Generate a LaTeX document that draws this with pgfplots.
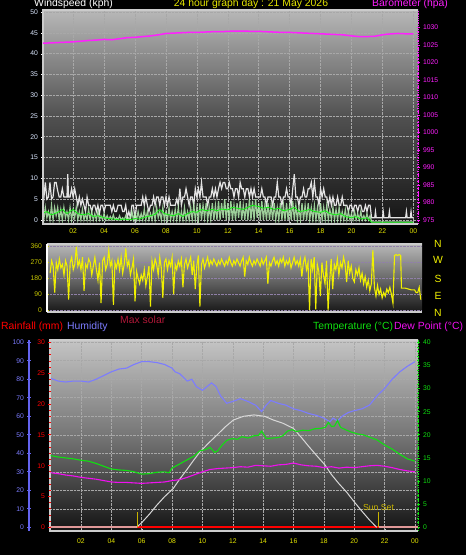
\documentclass[border=0pt]{standalone}
\usepackage{fontspec}
\setmainfont{Liberation Sans}
\usepackage{pgfplots}
\pgfplotsset{compat=1.18}
\definecolor{windlbl}{HTML}{DCE8FF}
\definecolor{framec}{HTML}{CCCCCC}
\definecolor{gust}{HTML}{E4E4E4}
\definecolor{palegreen}{HTML}{B4EEB0}
\definecolor{avggreen}{HTML}{10F010}
\definecolor{baro}{HTML}{FF20FF}
\definecolor{dirc}{HTML}{F0F000}
\definecolor{olivec}{HTML}{C8C800}
\definecolor{hum}{HTML}{7C7CFF}
\definecolor{humax}{HTML}{6464F0}
\definecolor{tempc}{HTML}{10E010}
\definecolor{dew}{HTML}{F010F0}
\definecolor{solar}{HTML}{D8D8D8}
\definecolor{rainc}{HTML}{FF0000}
\definecolor{rainlight}{HTML}{E09898}
\definecolor{sunline}{HTML}{C8B400}
\definecolor{maxsolar}{HTML}{B01838}
\definecolor{tickyellow}{HTML}{E6E600}
\definecolor{bgat}{HTML}{B8B8B8}
\definecolor{bgam}{HTML}{505050}
\definecolor{bgab}{HTML}{141414}
\definecolor{bgbt}{HTML}{B8B8B8}
\definecolor{bgbm}{HTML}{6A6A6A}
\definecolor{bgbb}{HTML}{181818}
\definecolor{bgct}{HTML}{C4C4C4}
\definecolor{bgcm}{HTML}{767676}
\definecolor{bgcb}{HTML}{141414}
\definecolor{gridc}{HTML}{A8A8A8}
\definecolor{dirgrid}{HTML}{9080A8}
\newcommand{\tickfont}{\fontsize{6.8}{8}\selectfont}
\newcommand{\labfont}{\fontsize{10.4}{12}\selectfont}
\pgfplotsset{
  base/.style={scale only axis, anchor=south west,
    tick align=outside, major tick length=3pt, minor tick length=2pt,
    /pgf/number format/assume math mode=true,
    /pgf/number format/1000 sep={},
    ticklabel style={font=\tickfont},
  },
}
\begin{document}
\begin{tikzpicture}
\useasboundingbox (0,0) rectangle (466pt,555pt);
\fill[black] (0,0) rectangle (466pt,555pt);
% ---------- titles ----------
\node[anchor=west, inner sep=0, white, font=\labfont] at (34pt,551pt) {Windspeed (kph)};
\node[anchor=center, inner sep=0, tickyellow, font=\labfont] at (251pt,551pt) {24 hour graph day : 21 May 2026};
\node[anchor=west, inner sep=0, baro, font=\labfont] at (372pt,551pt) {Barometer (hpa)};
% ---------- panel 1: wind ----------
\begin{axis}[base, at={(43pt,331pt)}, width=375pt, height=214pt,
  xmin=0.05, xmax=24.3, ymin=-1, ymax=50.5,
  axis background/.style={top color=bgat, bottom color=bgab, middle color=bgam},
  axis x line=bottom, axis y line=left, axis line style={draw=none},
  xtick={2,4,...,24}, xticklabels={02,04,06,08,10,12,14,16,18,20,22,00},
  xticklabel style={color=tickyellow}, minor x tick num=2,
  xtick style={color=framec},
  ytick={0,5,...,50}, minor y tick num=4,
  yticklabel style={color=windlbl}, ytick style={color=white},
  grid=major, grid style={densely dotted, gridc, line width=0.5pt},
  after end axis/.code={
    \draw[framec, line width=1.5pt] (rel axis cs:1,1) -- (rel axis cs:0,1) -- (rel axis cs:0,0) -- (rel axis cs:1,0);
  },
]
\addplot[gust, line width=1.2pt] table[row sep=\\] {x y\\
0.0 7.5\\ 0.1 5\\ 0.2 9\\ 0.3 5\\ 0.4 5.5\\ 0.5 9\\ 0.6 5\\ 0.7 5.5\\ 0.8 9\\ 0.9 9\\ 1.0 7\\ 1.1 5.5\\ 1.2 5.5\\ 1.3 7.5\\ 1.4 5.5\\ 1.5 5.5\\ 1.6 5.5\\ 1.65 11\\ 1.7 5.5\\ 1.8 5.5\\ 1.9 7.5\\ 2.0 5.5\\ 2.1 7.5\\ 2.2 5.5\\ 2.3 3.5\\ 2.4 5.5\\ 2.5 3.5\\ 2.6 5\\ 2.7 3.5\\ 2.8 2\\ 2.9 5.5\\ 3.0 3.5\\ 3.1 3.5\\ 3.2 2\\ 3.3 3.5\\ 3.4 3.5\\ 3.5 2\\ 3.6 3.5\\ 3.7 1.5\\ 3.8 3.5\\ 3.9 3.5\\ 4.0 2\\ 4.1 3.5\\ 4.2 3.5\\ 4.3 3.5\\ 4.4 3.5\\ 4.5 2\\ 4.6 3.5\\ 4.7 2\\ 4.8 2\\ 4.9 3.5\\ 5.0 3.5\\ 5.1 3.5\\ 5.2 2\\ 5.3 2\\ 5.4 3.5\\ 5.5 0.5\\ 5.6 2\\ 5.7 0.5\\ 5.8 3.5\\ 5.9 3.5\\ 6.0 0\\ 6.1 3.5\\ 6.2 3.5\\ 6.3 3.5\\ 6.4 3.5\\ 6.5 5.5\\ 6.6 3.5\\ 6.7 5.5\\ 6.8 3.5\\ 6.9 2\\ 7.0 3.5\\ 7.1 3.5\\ 7.2 5.5\\ 7.3 3.5\\ 7.4 5.5\\ 7.5 5.5\\ 7.6 3.5\\ 7.7 5.5\\ 7.8 5.5\\ 7.9 3.5\\ 8.0 5.5\\ 8.1 3.5\\ 8.2 5.5\\ 8.3 3.5\\ 8.4 3.5\\ 8.5 3.5\\ 8.6 3.5\\ 8.7 5\\ 8.8 3.5\\ 8.9 7.5\\ 9.0 3.5\\ 9.1 5.5\\ 9.2 5.5\\ 9.3 7.5\\ 9.4 5.5\\ 9.5 3.5\\ 9.6 5.5\\ 9.7 5.5\\ 9.8 3.5\\ 9.9 7.5\\ 10.0 5.5\\ 10.1 7.5\\ 10.2 5.5\\ 10.3 9\\ 10.4 5.5\\ 10.5 5.5\\ 10.6 5.5\\ 10.7 3.5\\ 10.8 5.5\\ 10.9 5.5\\ 11.0 7.5\\ 11.1 5.5\\ 11.2 7.5\\ 11.3 5.5\\ 11.4 7.5\\ 11.5 9\\ 11.6 7.5\\ 11.7 9\\ 11.8 9\\ 11.9 7.5\\ 12.0 7.5\\ 12.1 9\\ 12.2 7.5\\ 12.3 7.5\\ 12.4 5.5\\ 12.5 7.5\\ 12.6 7.5\\ 12.7 5.5\\ 12.8 9\\ 12.9 7.5\\ 13.0 7.5\\ 13.1 5.5\\ 13.2 7.5\\ 13.3 7.5\\ 13.4 5.5\\ 13.5 7.5\\ 13.6 5.5\\ 13.7 7.5\\ 13.8 5.5\\ 13.9 5.5\\ 14.0 5.5\\ 14.1 5.5\\ 14.2 7.5\\ 14.3 5.5\\ 14.4 5.5\\ 14.5 3.5\\ 14.6 5.5\\ 14.7 5.5\\ 14.8 5.5\\ 14.9 3.5\\ 15.0 5.5\\ 15.1 5.5\\ 15.2 9\\ 15.3 5.5\\ 15.4 5.5\\ 15.5 3.5\\ 15.6 5.5\\ 15.7 5.5\\ 15.8 7.5\\ 15.9 5.5\\ 16.0 5.5\\ 16.1 3.5\\ 16.2 7.5\\ 16.3 11\\ 16.4 5.5\\ 16.5 5.5\\ 16.6 3.5\\ 16.7 5.5\\ 16.8 5.5\\ 16.9 7.5\\ 17.0 5.5\\ 17.1 5.5\\ 17.2 7.5\\ 17.3 7.5\\ 17.4 9\\ 17.5 5.5\\ 17.6 9\\ 17.7 5.5\\ 17.8 5.5\\ 17.9 3.5\\ 18.0 7.5\\ 18.1 5.5\\ 18.2 7.5\\ 18.3 5.5\\ 18.4 5.5\\ 18.5 3.5\\ 18.6 5.5\\ 18.7 3.5\\ 18.8 5.5\\ 18.9 3.5\\ 19.0 3.5\\ 19.1 5.5\\ 19.2 3.5\\ 19.3 3.5\\ 19.4 5.5\\ 19.5 3.5\\ 19.6 3.5\\ 19.7 3.5\\ 19.8 2\\ 19.9 3.5\\ 20.0 3.5\\ 20.1 2\\ 20.2 3.5\\ 20.3 3.5\\ 20.4 2\\ 20.5 3.5\\ 20.6 3.5\\ 20.7 2\\ 20.8 2\\ 20.9 3.5\\ 21.0 2\\ 21.1 3.5\\ 21.2 3.5\\ 21.3 0.5\\ 21.5 0.5\\ 21.55 2\\ 21.6 0.5\\ 22.0 0.5\\ 22.05 2\\ 22.1 0.5\\ 22.4 0.5\\ 22.45 2\\ 22.5 0.5\\ 23.5 0.5\\ 23.55 2\\ 23.6 0.5\\ 23.8 0.5\\ 23.85 2\\ 23.9 0.5\\ 24.0 0.5\\
};
\addplot[palegreen, line width=1.2pt, opacity=0.85] table[row sep=\\] {x y\\
0.0 3\\ 0.1 0\\ 0.2 3\\ 0.3 0.5\\ 0.4 2\\ 0.5 0\\ 0.6 3.5\\ 0.7 0\\ 0.8 3\\ 0.9 1\\ 1.0 3\\ 1.1 0\\ 1.2 2.5\\ 1.3 0\\ 1.4 3\\ 1.5 0.5\\ 1.6 2\\ 1.7 0\\ 1.8 3\\ 1.9 0\\ 2.0 2.5\\ 2.1 0.5\\ 2.2 3\\ 2.3 0\\ 2.4 2\\ 2.5 0\\ 2.6 2.5\\ 2.7 0\\ 2.8 1.5\\ 2.9 0\\ 3.0 2.5\\ 3.1 0\\ 3.2 2\\ 3.3 0\\ 3.4 1.5\\ 3.5 0\\ 3.6 2\\ 3.7 0\\ 3.8 1\\ 3.9 0\\ 4.0 1.5\\ 4.1 0\\ 4.2 1\\ 4.3 0\\ 4.4 0.8\\ 4.5 0\\ 4.6 1.2\\ 4.7 0\\ 4.8 0.5\\ 4.9 0\\ 5.0 1\\ 5.1 0\\ 5.2 0.5\\ 5.3 0\\ 5.4 1\\ 5.5 0\\ 5.6 0.5\\ 5.7 0\\ 5.8 2\\ 5.9 0\\ 6.0 1.5\\ 6.1 0\\ 6.2 2\\ 6.3 0\\ 6.4 1.5\\ 6.5 0\\ 6.6 2.5\\ 6.7 0\\ 6.8 2\\ 6.9 0\\ 7.0 1.5\\ 7.1 0\\ 7.2 2.5\\ 7.3 0\\ 7.4 3\\ 7.5 0.5\\ 7.6 2\\ 7.7 0\\ 7.8 3\\ 7.9 0\\ 8.0 2\\ 8.1 0\\ 8.2 3\\ 8.3 0\\ 8.4 2\\ 8.5 0\\ 8.6 2.5\\ 8.7 0\\ 8.8 3\\ 8.9 0\\ 9.0 2\\ 9.1 0\\ 9.2 3\\ 9.3 0\\ 9.4 2\\ 9.5 0\\ 9.6 3\\ 9.7 0\\ 9.8 3.5\\ 9.9 0\\ 10.0 3\\ 10.1 0\\ 10.2 4\\ 10.3 0\\ 10.4 3.5\\ 10.5 0.5\\ 10.6 4\\ 10.7 0\\ 10.8 3\\ 10.9 0\\ 11.0 4\\ 11.1 0\\ 11.2 3.5\\ 11.3 0\\ 11.4 4.5\\ 11.5 0\\ 11.6 4\\ 11.7 0.5\\ 11.8 5\\ 11.9 0\\ 12.0 4\\ 12.1 0\\ 12.2 4.5\\ 12.3 0\\ 12.4 3.5\\ 12.5 0\\ 12.6 4\\ 12.7 0.5\\ 12.8 4.5\\ 12.9 0\\ 13.0 3.5\\ 13.1 0\\ 13.2 4\\ 13.3 0\\ 13.4 5\\ 13.5 0\\ 13.6 4.5\\ 13.7 0\\ 13.8 5\\ 13.9 0.5\\ 14.0 4\\ 14.1 0\\ 14.2 4.5\\ 14.3 0\\ 14.4 3.5\\ 14.5 0\\ 14.6 4\\ 14.7 0\\ 14.8 3.5\\ 14.9 0\\ 15.0 4\\ 15.1 0\\ 15.2 3\\ 15.3 0\\ 15.4 4\\ 15.5 0\\ 15.6 3.5\\ 15.7 0\\ 15.8 4\\ 15.9 0\\ 16.0 3.5\\ 16.1 0\\ 16.2 4.5\\ 16.3 0\\ 16.4 3.5\\ 16.5 0\\ 16.6 3\\ 16.7 0\\ 16.8 4\\ 16.9 0\\ 17.0 3.5\\ 17.1 0\\ 17.2 4\\ 17.3 0\\ 17.4 3\\ 17.5 0\\ 17.6 3.5\\ 17.7 0\\ 17.8 3\\ 17.9 0\\ 18.0 4\\ 18.1 0\\ 18.2 3\\ 18.3 0\\ 18.4 3.5\\ 18.5 0\\ 18.6 2.5\\ 18.7 0\\ 18.8 3\\ 18.9 0\\ 19.0 2.5\\ 19.1 0\\ 19.2 3\\ 19.3 0\\ 19.4 2\\ 19.5 0\\ 19.6 2.5\\ 19.7 0\\ 19.8 2\\ 19.9 0\\ 20.0 1.5\\ 20.1 0\\ 20.2 2\\ 20.3 0\\ 20.4 1.5\\ 20.5 0\\ 20.6 2\\ 20.7 0\\ 20.8 1\\ 20.9 0\\ 21.0 1.5\\ 21.1 0\\ 21.2 1\\ 21.3 -0.5\\ 24.0 -0.5\\
};
\addplot[avggreen, line width=0.8pt] table[row sep=\\] {x y\\
0 1.5\\ 0.3 2\\ 0.6 1.2\\ 1.0 1.8\\ 1.3 2.5\\ 1.6 1.5\\ 2.0 2.5\\ 2.3 1.5\\ 2.6 1.2\\ 3.0 1.5\\ 3.3 0.8\\ 3.6 1\\ 4.0 0.5\\ 4.3 0.3\\ 4.6 0.2\\ 5.0 0\\ 5.3 0.2\\ 5.6 0\\ 6.0 0.3\\ 6.3 0.2\\ 6.6 0.6\\ 7.0 1.0\\ 7.3 1.3\\ 7.6 2.5\\ 7.9 1.5\\ 8.2 1.2\\ 8.5 1\\ 8.8 1.5\\ 9.1 0.8\\ 9.4 1.5\\ 9.7 2\\ 10.0 1.8\\ 10.3 2.5\\ 10.6 2.2\\ 11.0 2.5\\ 11.3 2.2\\ 11.6 2.6\\ 12.0 2.4\\ 12.3 3\\ 12.6 2.8\\ 13.0 2.5\\ 13.3 3\\ 13.6 3.5\\ 14.0 3.2\\ 14.3 2.8\\ 14.6 3\\ 15.0 2.5\\ 15.3 2.8\\ 15.6 2.2\\ 16.0 2.5\\ 16.3 3\\ 16.6 2\\ 17.0 2.2\\ 17.3 2.5\\ 17.6 2\\ 18.0 1.8\\ 18.3 2.2\\ 18.6 1.5\\ 19.0 1.2\\ 19.3 1.5\\ 19.6 0.8\\ 20.0 0.5\\ 20.3 0.8\\ 20.6 0.2\\ 21.0 0.5\\ 21.3 -0.6\\ 24.0 -0.6\\
};
\end{axis}
\begin{axis}[base, at={(43pt,331pt)}, width=375pt, height=214pt,
  xmin=0.05, xmax=24.3, ymin=973.9, ymax=1035,
  axis x line=none, axis y line=right,
  axis line style={-, baro, densely dotted, line width=0.8pt},
  ytick={975,980,...,1030}, minor y tick num=4,
  yticklabel style={color=baro}, ytick style={color=baro, line width=0.8pt},
]
\addplot[baro, line width=1.5pt] table[row sep=\\] {x y\\
0 1025.5\\ 0.5 1025.6\\ 1 1025.7\\ 1.5 1025.8\\ 2 1025.9\\ 2.5 1026.1\\ 3 1026.3\\ 3.5 1026.4\\ 4 1026.6\\ 4.5 1026.5\\ 5 1026.8\\ 5.5 1027.1\\ 6 1027.2\\ 6.5 1027.4\\ 7 1027.6\\ 7.5 1027.9\\ 8 1028.3\\ 8.5 1028.4\\ 9 1028.5\\ 9.5 1028.6\\ 10 1028.6\\ 10.5 1028.7\\ 11 1028.8\\ 11.5 1028.8\\ 12 1028.9\\ 12.5 1029.0\\ 13 1029.0\\ 13.5 1028.9\\ 14 1028.9\\ 14.5 1028.8\\ 15 1028.7\\ 15.5 1028.6\\ 16 1028.6\\ 16.5 1028.5\\ 17 1028.4\\ 17.5 1028.3\\ 18 1028.2\\ 18.5 1028.1\\ 19 1028.0\\ 19.5 1027.9\\ 20 1027.6\\ 20.5 1027.4\\ 21 1027.4\\ 21.5 1027.5\\ 22 1027.9\\ 22.3 1028.1\\ 23 1028.3\\ 23.5 1028.2\\ 24 1028.2\\
};
\end{axis}
% ---------- panel 2: wind direction ----------
\begin{axis}[base, at={(47pt,243pt)}, width=375pt, height=68pt,
  xmin=-0.2, xmax=24.08, ymin=-10, ymax=375,
  axis background/.style={top color=bgbt, bottom color=bgbb, middle color=bgbm},
  axis x line=bottom, axis y line=left, axis line style={draw=none},
  xtick=\empty,
  ytick={0,90,180,270,360}, minor y tick num=2,
  yticklabel style={color=olivec}, ytick style={color=olivec, line width=0.8pt},
  ymajorgrids=true, grid style={densely dotted, dirgrid, line width=0.5pt},
  after end axis/.code={
    \draw[framec, line width=1.5pt] (rel axis cs:0,1) -- (rel axis cs:1,1);
    \draw[framec, line width=1.5pt] (rel axis cs:0,0) -- (rel axis cs:1,0);
    \draw[white, line width=2pt] (rel axis cs:0,0) -- (rel axis cs:0,1);
  },
]
\addplot[dirc, line width=1.1pt] table[row sep=\\] {x y\\
0.0 210\\ 0.1 280\\ 0.2 250\\ 0.3 100\\ 0.4 270\\ 0.5 230\\ 0.6 290\\ 0.7 240\\ 0.8 260\\ 0.9 200\\ 1.0 280\\ 1.1 250\\ 1.2 60\\ 1.3 270\\ 1.4 300\\ 1.5 230\\ 1.6 260\\ 1.7 360\\ 1.8 250\\ 1.9 280\\ 2.0 230\\ 2.1 300\\ 2.2 110\\ 2.3 260\\ 2.4 240\\ 2.5 290\\ 2.6 270\\ 2.7 200\\ 2.8 250\\ 2.9 300\\ 3.0 230\\ 3.1 170\\ 3.2 270\\ 3.3 40\\ 3.4 280\\ 3.5 300\\ 3.6 230\\ 3.7 260\\ 3.8 340\\ 3.9 250\\ 4.0 280\\ 4.1 30\\ 4.2 270\\ 4.3 240\\ 4.4 290\\ 4.5 230\\ 4.6 300\\ 4.7 210\\ 4.8 260\\ 4.9 350\\ 5.0 250\\ 5.1 280\\ 5.2 200\\ 5.3 240\\ 5.4 290\\ 5.5 50\\ 5.6 220\\ 5.7 180\\ 5.8 150\\ 5.9 200\\ 6.0 170\\ 6.1 230\\ 6.2 140\\ 6.3 190\\ 6.4 250\\ 6.5 20\\ 6.6 280\\ 6.7 230\\ 6.8 290\\ 6.9 260\\ 7.0 200\\ 7.1 300\\ 7.2 240\\ 7.3 70\\ 7.4 270\\ 7.5 290\\ 7.6 230\\ 7.7 280\\ 7.8 250\\ 7.9 300\\ 8.0 90\\ 8.1 260\\ 8.2 230\\ 8.3 280\\ 8.4 250\\ 8.5 290\\ 8.6 130\\ 8.7 260\\ 8.8 290\\ 8.9 240\\ 9.0 270\\ 9.1 300\\ 9.2 200\\ 9.3 280\\ 9.4 120\\ 9.5 250\\ 9.6 310\\ 9.7 20\\ 9.8 260\\ 9.9 290\\ 10.0 240\\ 10.1 270\\ 10.2 300\\ 10.3 250\\ 10.4 280\\ 10.5 260\\ 10.6 290\\ 10.7 270\\ 10.8 250\\ 10.9 280\\ 11.0 260\\ 11.1 290\\ 11.2 270\\ 11.3 250\\ 11.4 280\\ 11.5 260\\ 11.6 300\\ 11.7 270\\ 11.8 250\\ 11.9 280\\ 12.0 260\\ 12.1 290\\ 12.2 270\\ 12.3 250\\ 12.4 280\\ 12.5 300\\ 12.6 190\\ 12.7 280\\ 12.8 260\\ 12.9 300\\ 13.0 270\\ 13.1 250\\ 13.2 280\\ 13.3 260\\ 13.4 290\\ 13.5 270\\ 13.6 250\\ 13.7 290\\ 13.8 260\\ 13.9 280\\ 14.0 300\\ 14.1 150\\ 14.2 270\\ 14.3 250\\ 14.4 280\\ 14.5 300\\ 14.6 260\\ 14.7 280\\ 14.8 250\\ 14.9 290\\ 15.0 270\\ 15.1 300\\ 15.2 250\\ 15.3 280\\ 15.4 260\\ 15.5 290\\ 15.6 240\\ 15.7 270\\ 15.8 300\\ 15.9 260\\ 16.0 280\\ 16.1 250\\ 16.2 290\\ 16.3 190\\ 16.4 270\\ 16.5 300\\ 16.6 230\\ 16.7 270\\ 16.8 0\\ 16.9 290\\ 17.0 230\\ 17.1 300\\ 17.2 5\\ 17.3 260\\ 17.4 220\\ 17.5 80\\ 17.6 270\\ 17.7 200\\ 17.8 150\\ 17.9 280\\ 18.0 0\\ 18.1 160\\ 18.2 290\\ 18.3 120\\ 18.4 260\\ 18.5 230\\ 18.6 290\\ 18.7 200\\ 18.8 270\\ 18.9 240\\ 19.0 300\\ 19.1 260\\ 19.2 160\\ 19.3 280\\ 19.4 210\\ 19.5 250\\ 19.6 180\\ 19.7 160\\ 19.8 230\\ 19.9 200\\ 20.0 240\\ 20.1 170\\ 20.2 210\\ 20.3 150\\ 20.4 190\\ 20.5 130\\ 20.6 170\\ 20.7 110\\ 20.8 150\\ 20.9 340\\ 21.0 130\\ 21.1 80\\ 21.2 140\\ 21.3 90\\ 21.4 120\\ 21.5 70\\ 21.6 100\\ 21.7 80\\ 21.8 120\\ 21.9 100\\ 22.0 130\\ 22.1 90\\ 22.2 40\\ 22.3 310\\ 22.4 315\\ 22.5 310\\ 22.6 315\\ 22.7 310\\ 22.75 125\\ 23.0 125\\ 23.2 120\\ 23.4 115\\ 23.6 115\\ 23.7 100\\ 23.8 100\\ 23.9 130\\ 24.0 60\\
};
\end{axis}
\foreach \lab/\yy in {N/311, W/295, S/276, E/259, N/242}{
  \node[anchor=center, inner sep=0, dirc, font=\labfont] at (438pt,\yy pt) {\lab};
}
% ---------- panel 3 headings ----------
\node[anchor=west, inner sep=0, rainc, font=\labfont] at (1pt,228pt) {Rainfall (mm)};
\node[anchor=west, inner sep=0, hum, font=\labfont] at (67pt,228pt) {Humidity};
\node[anchor=west, inner sep=0, maxsolar, font=\labfont] at (120pt,235pt) {Max solar};
\node[anchor=west, inner sep=0, tempc, font=\labfont] at (313pt,228pt) {Temperature (°C)};
\node[anchor=west, inner sep=0, dew, font=\labfont] at (394pt,228pt) {Dew Point (°C)};
% ---------- panel 3: humidity (background, grid) ----------
\begin{axis}[base, at={(50pt,24pt)}, width=368pt, height=191pt,
  xmin=-0.04, xmax=24.2, ymin=-2, ymax=101.2,
  axis background/.style={top color=bgct, bottom color=bgcb, middle color=bgcm},
  axis x line=bottom, axis y line=left, axis line style={draw=none},
  xtick={2,4,...,24}, xticklabels={02,04,06,08,10,12,14,16,18,20,22,00},
  xticklabel style={color=tickyellow, yshift=-3pt}, minor x tick num=2,
  xtick style={color=framec},
  ytick={0,10,...,100}, yticklabels={}, ytick style={draw=none},
  grid=major, grid style={densely dotted, gridc, line width=0.5pt},
  after end axis/.code={
    \draw[framec, line width=1.5pt] (rel axis cs:1,1) -- (rel axis cs:0,1) -- (rel axis cs:0,0) -- (rel axis cs:1,0);
  },
]
\addplot[hum, line width=1.1pt] table[row sep=\\] {x y\\
0 80.5\\ 0.5 79\\ 1 78.5\\ 1.5 79\\ 2 79\\ 2.5 78.5\\ 3 80\\ 3.5 82\\ 4 84\\ 4.5 85.5\\ 5 86\\ 5.5 88\\ 6 89.5\\ 6.5 89.5\\ 7 89\\ 7.5 88\\ 8 86\\ 8.2 84\\ 8.5 83\\ 9 79\\ 9.3 80\\ 9.6 76\\ 10 74\\ 10.3 76\\ 10.6 78\\ 10.9 76\\ 11.2 71\\ 11.6 67\\ 12 68\\ 12.5 69.5\\ 13 68\\ 13.5 66\\ 13.9 62.5\\ 14.2 66\\ 14.5 68.5\\ 15 67\\ 15.5 66\\ 16 64\\ 16.5 63\\ 17 61.5\\ 17.5 60.5\\ 18 59\\ 18.4 57\\ 18.6 59\\ 18.9 57.5\\ 19.2 60\\ 19.6 62\\ 20 63\\ 20.5 64\\ 21 66\\ 21.5 71\\ 22 75\\ 22.5 80\\ 23 84\\ 23.5 87\\ 24 89.5\\
};
\end{axis}
% ---------- panel 3: temperature axis ----------
\begin{axis}[base, at={(50pt,24pt)}, width=368pt, height=191pt,
  xmin=-0.04, xmax=24.2, ymin=-0.8, ymax=40.5,
  axis x line=none, axis y line=right,
  axis line style={-, tempc, densely dotted, line width=0.8pt},
  ytick={0,5,...,40}, minor y tick num=4,
  yticklabel style={color=tempc}, ytick style={color=tempc, line width=0.8pt},
]
% rainfall (0 mm all day) drawn at the shared zero level
\addplot[rainlight, line width=2pt] coordinates {(-0.04,0) (24.2,0)};
\addplot[rainc, line width=2pt] coordinates {(5.7,0) (21.6,0)};
\addplot[solar, line width=1pt] table[row sep=\\] {x y\\
5.67 0\\ 6.0 1\\ 6.5 2.8\\ 7.0 4.8\\ 7.5 6.6\\ 8.08 8.4\\ 8.5 10.4\\ 8.96 12.4\\ 9.4 14.4\\ 9.84 16.3\\ 10.4 18.2\\ 10.94 19.9\\ 11.5 21.7\\ 12.04 23.2\\ 12.7 24.0\\ 13.4 24.3\\ 14.1 24.0\\ 14.67 23.2\\ 15.3 22.5\\ 15.99 21.4\\ 16.5 19.5\\ 17.0 17.5\\ 17.5 15.6\\ 18.07 13.5\\ 18.5 11.4\\ 19.0 9.4\\ 19.5 7.6\\ 20.0 5.5\\ 20.5 3.5\\ 21.0 1.6\\ 21.48 0\\
};
\addplot[tempc, line width=1.1pt] table[row sep=\\] {x y\\
0 15.5\\ 0.5 15.2\\ 1 15\\ 1.5 14.8\\ 2 14.5\\ 2.5 14.3\\ 3 13.8\\ 3.5 13.2\\ 4 12.6\\ 4.5 12.4\\ 5 12.3\\ 5.5 12\\ 6 11.5\\ 6.5 11.6\\ 7 11.9\\ 7.5 12.0\\ 7.8 11.8\\ 8 12.8\\ 8.5 13.7\\ 9 14.6\\ 9.5 15.5\\ 9.8 16.5\\ 10.2 16.8\\ 10.5 17.3\\ 10.8 16.2\\ 11 16.5\\ 11.3 17.8\\ 11.6 18.8\\ 12 19.2\\ 12.3 19.0\\ 12.6 19.6\\ 13 19.3\\ 13.4 19.8\\ 13.7 19.9\\ 13.9 20.8\\ 14.2 19.2\\ 14.6 19.3\\ 15 19.4\\ 15.3 19.8\\ 15.6 20.8\\ 15.9 21.1\\ 16.2 20.7\\ 16.6 21.0\\ 17 20.9\\ 17.4 21.3\\ 17.8 21.4\\ 18.1 21.6\\ 18.3 22.7\\ 18.5 21.8\\ 18.7 21.9\\ 18.9 23.1\\ 19.1 21.6\\ 19.5 21.0\\ 19.8 20.6\\ 20.2 20.2\\ 20.6 20.0\\ 21 19.5\\ 21.5 18.9\\ 22 17.8\\ 22.5 16.9\\ 23 15.8\\ 23.5 14.8\\ 24 14.3\\
};
\addplot[dew, line width=1.1pt] table[row sep=\\] {x y\\
0 11.8\\ 0.5 11.6\\ 1 11.3\\ 1.5 11.1\\ 2 10.8\\ 2.5 10.6\\ 3 10.4\\ 3.5 10.1\\ 4 9.8\\ 4.5 9.7\\ 5 9.7\\ 5.5 9.6\\ 6 9.5\\ 6.5 9.6\\ 7 9.7\\ 7.5 9.8\\ 8 10.1\\ 8.5 10.3\\ 9 10.8\\ 9.5 11.4\\ 10 12.0\\ 10.5 12.5\\ 11 12.7\\ 11.5 12.8\\ 12 12.9\\ 12.5 13.1\\ 13 13.0\\ 13.5 13.4\\ 14 13.3\\ 14.5 13.2\\ 15 13.5\\ 15.5 13.6\\ 16 13.9\\ 16.5 13.5\\ 17 13.3\\ 17.5 13.2\\ 18 12.9\\ 18.5 13.1\\ 19 12.8\\ 19.5 13.0\\ 20 12.9\\ 20.5 13.1\\ 21 13.3\\ 21.5 13.4\\ 22 13.2\\ 22.5 12.9\\ 23 12.5\\ 23.5 12.2\\ 24 12.0\\
};
\addplot[sunline, line width=1pt] coordinates {(5.7,0) (5.7,3.4)};
\addplot[sunline, line width=1pt] coordinates {(21.6,0) (21.6,3.4)};
\node[anchor=center, inner sep=0, sunline, font=\fontsize{8.7}{10}\selectfont] at (axis cs:21.6,4.3) {Sun Set};
\end{axis}
% ---------- panel 3: rain axis ----------
\begin{axis}[base, at={(50pt,24pt)}, width=368pt, height=191pt,
  xmin=-0.04, xmax=24.2, ymin=-0.6, ymax=30.4,
  axis x line=none, axis y line=left, axis line style={draw=none},
  ytick={0,5,...,30}, minor y tick num=4,
  yticklabel style={color=rainc}, ytick style={color=rainc, line width=0.8pt},
]
\addplot[draw=none] coordinates {(0,0)};
\end{axis}
% ---------- humidity scale ----------
\begin{axis}[base, at={(29pt,24pt)}, width=2pt, height=191pt,
  xmin=0, xmax=1, ymin=-2, ymax=101.2,
  axis x line=none, axis y line=left,
  axis line style={-, humax, line width=2pt},
  ytick={0,10,...,100}, minor y tick num=4,
  yticklabel style={color=hum}, ytick style={color=humax, line width=0.8pt},
]
\addplot[draw=none] coordinates {(0,0)};
\end{axis}
\end{tikzpicture}
\end{document}
